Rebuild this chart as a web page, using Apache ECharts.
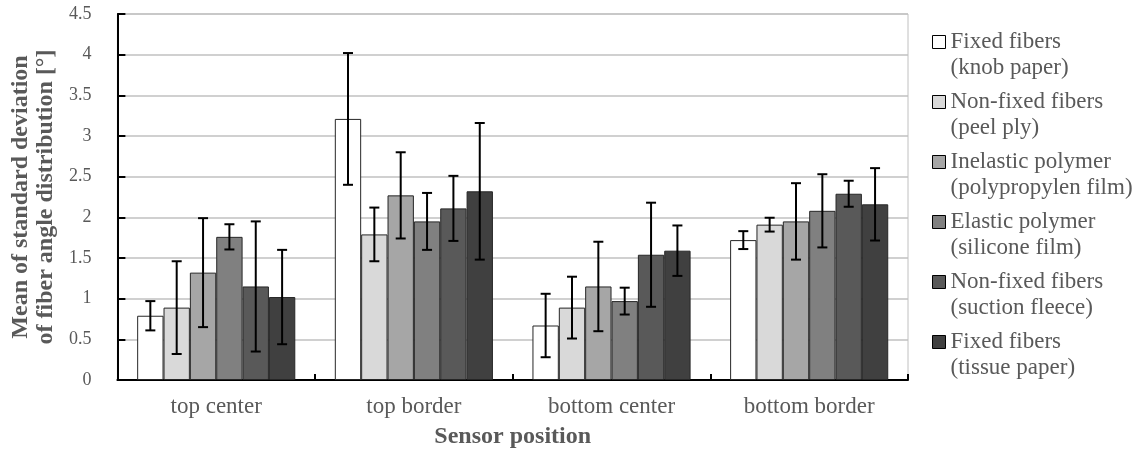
<!DOCTYPE html>
<html>
<head>
<meta charset="utf-8">
<script src="https://cdn.jsdelivr.net/npm/echarts@6/dist/echarts.min.js"></script>
<style>
  html, body { margin: 0; padding: 0; background: #fff; }
  #main { width: 1133px; height: 457px; }
</style>
</head>
<body>
<div id="main"></div>
<script>
var positions = ["top center", "top border", "bottom center", "bottom border"];

var seriesNames = [
    "Fixed fibers\n(knob paper)",
    "Non-fixed fibers\n(peel ply)",
    "Inelastic polymer\n(polypropylen film)",
    "Elastic polymer\n(silicone film)",
    "Non-fixed fibers\n(suction fleece)",
    "Fixed fibers\n(tissue paper)"
];

// mean values per material, one entry per sensor position
var knobPaper     = [0.79, 3.21, 0.67, 1.72];
var peelPly       = [0.89, 1.79, 0.89, 1.91];
var polypropylen  = [1.32, 2.27, 1.15, 1.95];
var silicone      = [1.76, 1.95, 0.97, 2.08];
var suctionFleece = [1.15, 2.11, 1.54, 2.29];
var tissuePaper   = [1.02, 2.32, 1.59, 2.16];

// error bar half lengths
var knobPaperErr     = [0.18, 0.81, 0.39, 0.11];
var peelPlyErr       = [0.57, 0.33, 0.38, 0.085];
var polypropylenErr  = [0.67, 0.53, 0.55, 0.47];
var siliconeErr      = [0.155, 0.35, 0.165, 0.45];
var suctionFleeceErr = [0.80, 0.40, 0.64, 0.16];
var tissuePaperErr   = [0.58, 0.84, 0.31, 0.445];

var yTicks = { min: 0, max: 4.5, interval: 0.5 };

var means = [knobPaper, peelPly, polypropylen, silicone, suctionFleece, tissuePaper];
var errs = [knobPaperErr, peelPlyErr, polypropylenErr, siliconeErr, suctionFleeceErr, tissuePaperErr];
var colors = ['#ffffff', '#d9d9d9', '#a6a6a6', '#808080', '#595959', '#404040'];

var font = 'Liberation Serif';
var textColor = '#595959';
var nSeries = means.length;
var groupShare = 0.8;

var series = [];
for (var i = 0; i < nSeries; i++) {
    series.push({
        name: seriesNames[i],
        type: 'bar',
        data: means[i],
        barGap: 0,
        barCategoryGap: '20%',
        itemStyle: {
            color: colors[i],
            borderColor: '#262626',
            borderWidth: 1
        },
        z: 2
    });
}

// error bars, placed over each bar using the category axis scale
for (var i = 0; i < nSeries; i++) {
    var errData = [];
    for (var j = 0; j < positions.length; j++) {
        errData.push([j, means[i][j] - errs[i][j], means[i][j] + errs[i][j]]);
    }
    series.push({
        type: 'custom',
        name: 'err' + i,
        data: errData,
        z: 5,
        silent: true,
        renderItem: (function (idx) {
            return function (params, api) {
                var cat = api.value(0);
                var lo = api.coord([cat, api.value(1)]);
                var hi = api.coord([cat, api.value(2)]);
                var bandW = api.size([1, 0])[0];
                var barW = bandW * groupShare / nSeries;
                var x = lo[0] + (idx - (nSeries - 1) / 2) * barW;
                var cap = 5;
                var st = { stroke: '#000', lineWidth: 2 };
                return {
                    type: 'group',
                    children: [
                        { type: 'line', shape: { x1: x, y1: lo[1], x2: x, y2: hi[1] }, style: st },
                        { type: 'line', shape: { x1: x - cap, y1: lo[1], x2: x + cap, y2: lo[1] }, style: st },
                        { type: 'line', shape: { x1: x - cap, y1: hi[1], x2: x + cap, y2: hi[1] }, style: st }
                    ]
                };
            };
        })(i)
    });
}

var myChart = echarts.init(document.getElementById('main'));
var option = {
    backgroundColor: '#ffffff',
    animation: false,
    textStyle: { fontFamily: font },
    grid: {
        left: 115,
        right: 225,
        top: 14,
        bottom: 77,
        show: true,
        borderColor: '#c0c0c0',
        borderWidth: 1
    },
    legend: {
        data: seriesNames,
        orient: 'vertical',
        left: 932,
        top: 3,
        padding: 0,
        itemGap: -18,
        itemWidth: 13,
        itemHeight: 13,
        icon: 'rect',
        itemStyle: { borderColor: '#000', borderWidth: 1 },
        selectedMode: false,
        // leading empty line so the square sits beside the first text line
        formatter: function (name) {
            return ' \n' + name;
        },
        textStyle: {
            fontFamily: font,
            fontSize: 23,
            color: textColor,
            lineHeight: 26
        }
    },
    xAxis: {
        type: 'category',
        data: positions,
        name: 'Sensor position',
        nameLocation: 'middle',
        nameGap: 45,
        nameTextStyle: {
            fontFamily: font,
            fontSize: 24,
            fontWeight: 'bold',
            color: textColor
        },
        axisLine: { lineStyle: { color: '#000', width: 2 } },
        axisTick: { show: true, inside: true, length: 6, lineStyle: { color: '#000', width: 2 } },
        axisLabel: {
            fontFamily: font,
            fontSize: 23,
            color: textColor,
            margin: 15
        },
        splitLine: { show: false }
    },
    yAxis: {
        type: 'value',
        min: yTicks.min,
        max: yTicks.max,
        interval: yTicks.interval,
        name: 'Mean of standard deviation\nof fiber angle distribution [°]',
        nameLocation: 'middle',
        nameGap: 55,
        nameTextStyle: {
            fontFamily: font,
            fontSize: 24,
            fontWeight: 'bold',
            color: textColor,
            lineHeight: 25
        },
        axisLine: { show: true, lineStyle: { color: '#000', width: 2 } },
        axisTick: { show: true, inside: true, length: 8, lineStyle: { color: '#000', width: 2 } },
        axisLabel: {
            fontFamily: font,
            fontSize: 18,
            color: textColor,
            margin: 26
        },
        splitLine: { lineStyle: { color: '#c0c0c0', width: 1.5 } }
    },
    series: series
};
myChart.setOption(option);
</script>
</body>
</html>
